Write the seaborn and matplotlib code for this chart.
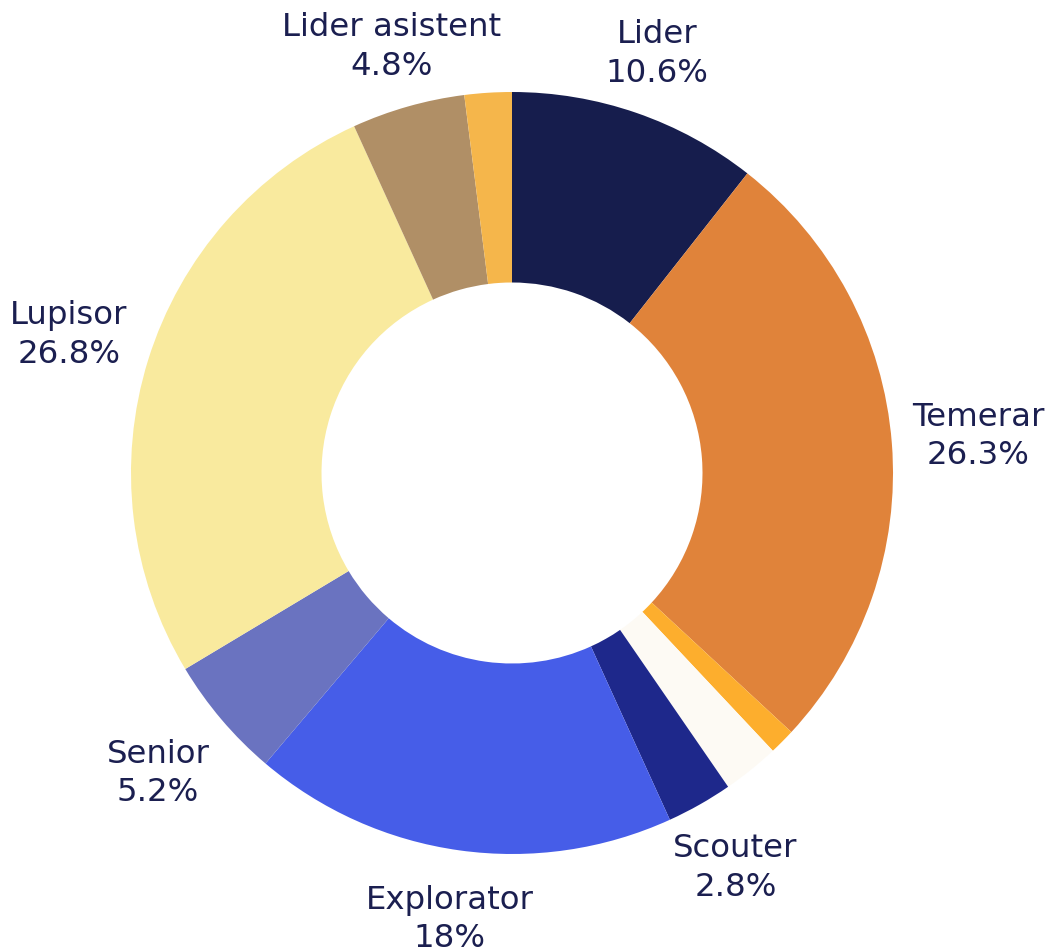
import matplotlib
matplotlib.use('Agg')
import matplotlib.pyplot as plt
import numpy as np
import seaborn as sns

# slice data, clockwise from 12 o'clock
categories = ['Lider', 'Temerar', 'Lider mare', 'Rover', 'Scouter', 'Explorator',
              'Senior', 'Lupisor', 'Lider asistent', 'Voluntar']
shares = [10.6, 26.3, 1.1, 2.4, 2.8, 18.0, 5.2, 26.8, 4.8, 2.0]
pct_labels = ['10.6%', '26.3%', '', '', '2.8%', '18%', '5.2%', '26.8%', '4.8%', '']
colors = ['#161d4d', '#e0833a', '#fdae2d', '#fdfaf4', '#1e288b', '#465de8',
          '#6a73c0', '#f9ea9e', '#b08f66', '#f5b64b']

text_color = '#1b1f50'

sns.set_theme(style='white')
plt.rcParams['font.family'] = ['DejaVu Sans']

fig = plt.figure(figsize=(10.54, 9.52), dpi=100)
ax = fig.add_axes([0, 0, 1, 1])

R = 381
cx, cy = 0, 0
wedges, _ = ax.pie(shares, colors=sns.color_palette(colors), startangle=90,
                   counterclock=False, radius=R, center=(cx, cy),
                   wedgeprops=dict(width=R * 0.5, linewidth=0))
ax.set_xlim(-512, 1054 - 512)
ax.set_ylim(-(952 - 473), 473)
ax.set_aspect('equal')
ax.axis('off')

# outside labels: centred on the mid-angle ray, pushed out until the box clears
fig.canvas.draw()
renderer = fig.canvas.get_renderer()
total = sum(shares)
cum = 0
for name, val, lab in zip(categories, shares, pct_labels):
    mid = (cum + val / 2) / total * 2 * np.pi
    cum += val
    if not lab:
        continue
    ux, uy = np.sin(mid), np.cos(mid)
    t = ax.text(0, 0, name + '\n' + lab, ha='center', va='center',
                fontsize=23.3, color=text_color, linespacing=1.3)
    bb = t.get_window_extent(renderer)
    hw, hh = bb.width / 2, bb.height / 2
    ext = min(hw / abs(ux) if abs(ux) > 1e-6 else 1e9,
              hh / abs(uy) if abs(uy) > 1e-6 else 1e9)
    # labels below the ring sit a little further out
    gap = 20 + (6 * uy if uy > 0 else 15 * -uy)
    d = R + gap + ext
    t.set_position((cx + d * ux, cy + d * uy))

fig.savefig('out.png', dpi=100, facecolor='white')
